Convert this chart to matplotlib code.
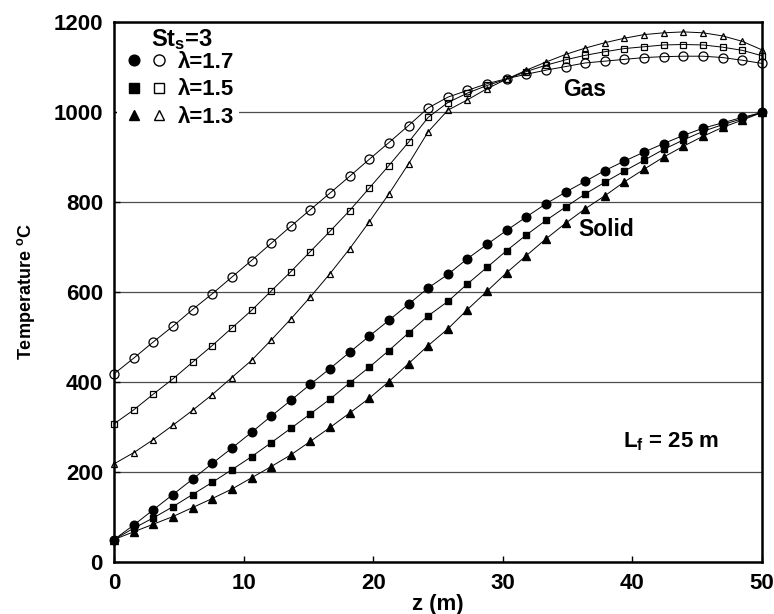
import matplotlib
matplotlib.use("Agg")
import matplotlib.pyplot as plt
from matplotlib.lines import Line2D
from matplotlib.legend_handler import HandlerTuple

plt.rcParams['font.family'] = ['Liberation Sans', 'DejaVu Sans']
plt.rcParams['font.weight'] = 'bold'
plt.rcParams['mathtext.fontset'] = 'custom'
plt.rcParams['mathtext.rm'] = 'Liberation Sans:bold'
plt.rcParams['mathtext.it'] = 'Liberation Sans:bold'
plt.rcParams['mathtext.bf'] = 'Liberation Sans:bold'

# axial position (m)
z = [0, 1.52, 3.03, 4.55, 6.06, 7.58, 9.09, 10.61, 12.12, 13.64, 15.15, 16.67,
     18.18, 19.70, 21.21, 22.73, 24.24, 25.76, 27.27, 28.79, 30.30, 31.82, 33.33,
     34.85, 36.36, 37.88, 39.39, 40.91, 42.42, 43.94, 45.45, 46.97, 48.48, 50]

# gas temperature (open markers)
gas_17 = [418, 453, 489, 524, 561, 596, 633, 670, 708, 746, 783, 820, 857, 895, 932,
          970, 1009, 1033, 1048, 1063, 1074, 1084, 1093, 1101, 1109, 1113, 1117, 1121,
          1123, 1124, 1124, 1121, 1115, 1108]
gas_15 = [307, 338, 373, 407, 444, 481, 520, 559, 602, 645, 690, 735, 781, 831, 881,
          933, 988, 1021, 1042, 1059, 1073, 1090, 1104, 1116, 1126, 1134, 1141, 1145,
          1149, 1150, 1149, 1144, 1137, 1125]
gas_13 = [218, 243, 272, 304, 337, 372, 410, 448, 493, 540, 589, 641, 696, 756, 818,
          885, 956, 1004, 1027, 1052, 1073, 1093, 1111, 1128, 1142, 1154, 1164, 1172,
          1176, 1178, 1176, 1169, 1157, 1138]

# solid temperature (filled markers)
sol_17 = [50, 82, 116, 150, 184, 219, 253, 288, 324, 359, 395, 430, 466, 502, 537,
          573, 609, 639, 674, 706, 737, 767, 796, 822, 846, 870, 891, 911, 930, 948,
          964, 976, 988, 999]
sol_15 = [50, 75, 98, 123, 150, 177, 205, 234, 265, 297, 329, 362, 398, 433, 470,
          509, 547, 579, 618, 655, 692, 727, 759, 789, 818, 844, 869, 893, 917, 938,
          957, 972, 985, 999]
sol_13 = [50, 67, 84, 101, 121, 141, 162, 187, 212, 238, 268, 299, 331, 364, 401,
          441, 481, 518, 561, 602, 643, 681, 718, 753, 785, 814, 845, 873, 900, 924,
          946, 966, 982, 999]

lambdas = ['λ=1.7', 'λ=1.5', 'λ=1.3']
markers = ['o', 's', '^']
open_ms = [6.5, 4.5, 4.5]
fill_ms = [6.2, 5.0, 5.5]

fig = plt.figure(figsize=(7.74, 6.14), dpi=100)
ax = fig.add_axes([114/774, 52/614, 648/774, 540/614])

handles = []
for gas, sol, m, mo, mf in zip([gas_17, gas_15, gas_13], [sol_17, sol_15, sol_13],
                               markers, open_ms, fill_ms):
    ax.plot(z, gas, color='black', lw=0.7, marker=m, ms=mo, mfc='none',
            mec='black', mew=0.9, clip_on=False, zorder=3)
    ax.plot(z, sol, color='black', lw=0.7, marker=m, ms=mf, mfc='black',
            mec='black', clip_on=False, zorder=3)
    # legend shows filled (solid) and open (gas) symbol side by side
    lf = Line2D([], [], ls='none', marker=m, ms=mf + 1.5, mfc='black', mec='black')
    lo = Line2D([], [], ls='none', marker=m, ms=mo + 1.5 if m == 'o' else mo + 2.5,
                mfc='none', mec='black', mew=1.0)
    handles.append((lf, lo))

ax.set_xlim(0, 50)
ax.set_ylim(0, 1200)
ax.set_xticks(range(0, 51, 10))
ax.set_yticks(range(0, 1201, 200))
ax.yaxis.grid(True, color='0.3', lw=0.9)
ax.set_axisbelow(True)
ax.tick_params(direction='in', length=4, width=1, labelsize=16, pad=8)
for s in ax.spines.values():
    s.set_linewidth(1.8)

ax.set_xlabel('z (m)', fontsize=16, fontweight='bold', labelpad=0)
ax.set_ylabel('Temperature $^\\mathrm{o}$C', fontsize=13, fontweight='bold', labelpad=12)

ax.text(36.3, 1049, 'Gas', fontsize=16.5, fontweight='bold', ha='center', va='center')
ax.text(38.0, 738, 'Solid', fontsize=16.5, fontweight='bold', ha='center', va='center')
ax.text(39.3, 268, 'L$_\\mathrm{f}$ = 25 m', fontsize=16, fontweight='bold',
        ha='left', va='center')
ax.text(5.25, 1160, 'St$_\\mathrm{s}$=3', fontsize=17, fontweight='bold',
        ha='center', va='center', zorder=6)

leg = ax.legend(handles, lambdas, handler_map={tuple: HandlerTuple(ndivide=None, pad=0)},
                loc='upper left', bbox_to_anchor=(0.004, 0.953), borderaxespad=0,
                prop={'size': 16, 'weight': 'bold'}, handlelength=2.25,
                handletextpad=0.3, labelspacing=0.3, borderpad=0.2,
                frameon=True, fancybox=False, framealpha=1)
leg.get_frame().set_edgecolor('none')

fig.savefig('out.png', dpi=100)
